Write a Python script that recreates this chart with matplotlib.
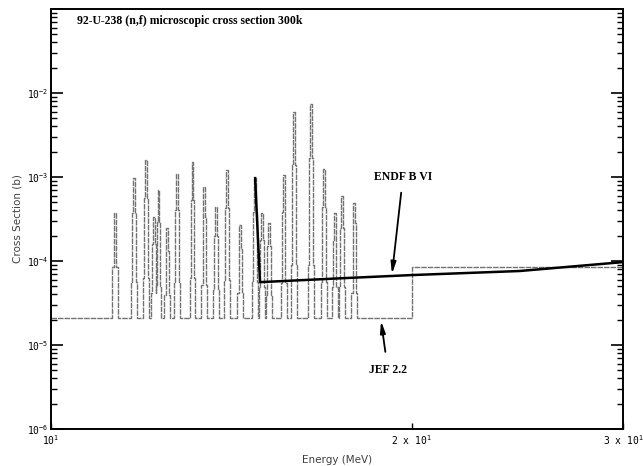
import matplotlib
matplotlib.use("Agg")
import matplotlib.pyplot as plt
from matplotlib.ticker import FixedLocator, FuncFormatter, LogLocator, NullLocator
import numpy as np

# JEF 2.2 resonances: energy (MeV), peak, middle step and shoulder cross sections (b)
res_energy = [11.31, 11.73, 12.00, 12.19, 12.30, 12.50, 12.74, 13.13, 13.42, 13.73, 14.02,
              14.38, 14.80, 15.00, 15.20, 15.64, 15.95, 16.48, 16.89, 17.25, 17.49, 17.90]
res_peak = [3.7e-4, 9.7e-4, 1.6e-3, 3.3e-4, 7.0e-4, 2.5e-4, 1.1e-3, 1.5e-3, 7.6e-4, 4.4e-4, 1.2e-3,
            2.7e-4, 9.7e-4, 3.7e-4, 2.8e-4, 1.05e-3, 5.9e-3, 7.4e-3, 1.25e-3, 3.7e-4, 5.9e-4, 4.9e-4]
res_mid = [8.5e-5, 3.7e-4, 5.6e-4, 1.6e-4, 2.9e-4, 1.3e-4, 4.0e-4, 5.3e-4, 3.3e-4, 2.0e-4, 4.3e-4,
           1.4e-4, 3.8e-4, 1.8e-4, 1.5e-4, 3.8e-4, 1.4e-3, 1.7e-3, 4.4e-4, 1.8e-4, 2.5e-4, 2.8e-4]
res_shoulder = [8.5e-5, 5.6e-5, 6.3e-5, 4.2e-5, 5.0e-5, 3.9e-5, 5.6e-5, 6.3e-5, 5.2e-5, 4.5e-5, 5.9e-5,
                4.2e-5, 5.6e-5, 4.9e-5, 3.9e-5, 5.5e-5, 9.0e-5, 9.0e-5, 5.6e-5, 4.9e-5, 4.9e-5, 4.2e-5]
jef_low = 2.1e-5      # below 20 MeV
jef_high = 8.5e-5     # above 20 MeV
jef_step = 20.0

# ENDF B VI
endf_energy = [14.80, 14.94, 17.76, 20.0, 24.6, 30.0]
endf_xs = [9.7e-4, 5.6e-5, 6.3e-5, 6.8e-5, 7.6e-5, 9.7e-5]

x_ticks = [10, 20, 30]
x_labels = ["10$^{1}$", "2 x 10$^{1}$", "3 x 10$^{1}$"]

# half widths of the nested steps, in ln(E)
W_SHOULDER, W_MID, W_PEAK = 0.0052, 0.0031, 0.0013

plt.rcParams['mathtext.fontset'] = 'custom'
plt.rcParams['mathtext.rm'] = 'DejaVu Sans Mono'
plt.rcParams['mathtext.it'] = 'DejaVu Sans Mono'

# build JEF step curve
rects = []
for e, p, m, s in zip(res_energy, res_peak, res_mid, res_shoulder):
    rects.append((e * np.exp(-W_SHOULDER), e * np.exp(W_SHOULDER), s))
    rects.append((e * np.exp(-W_MID), e * np.exp(W_MID), m))
    rects.append((e * np.exp(-W_PEAK), e * np.exp(W_PEAK), p))
edges = sorted(set([10.0, jef_step, 30.0] + [r[0] for r in rects] + [r[1] for r in rects]))
vals = []
for a, b in zip(edges[:-1], edges[1:]):
    mid = np.sqrt(a * b)
    v = jef_low if mid < jef_step else jef_high
    for lo, hi, rv in rects:
        if lo <= mid <= hi:
            v = max(v, rv)
    vals.append(v)
vals.append(vals[-1])

fig = plt.figure(figsize=(6.43, 4.66), dpi=100)
ax = fig.add_axes([0.0793, 0.0794, 0.8896, 0.9013])

ax.plot(edges, vals, drawstyle='steps-post', color='0.45', lw=1.0, ls=(0, (4, 0.7)))
ax.plot(endf_energy, endf_xs, color='black', lw=1.8)

ax.set_xscale('log')
ax.set_yscale('log')
ax.set_xlim(10, 30)
ax.set_ylim(1e-6, 1e-1)

ax.xaxis.set_major_locator(FixedLocator(x_ticks))
ax.xaxis.set_minor_locator(NullLocator())
ax.set_xticklabels(x_labels, family='DejaVu Sans Mono', fontsize=7)
ax.yaxis.set_major_locator(LogLocator(base=10, numticks=10))
ax.yaxis.set_minor_locator(LogLocator(base=10, subs=np.arange(2, 10), numticks=20))
ax.yaxis.set_major_formatter(FuncFormatter(
    lambda v, pos: "" if v > 0.05 else "10$^{%d}$" % round(np.log10(v))))
for lab in ax.get_yticklabels():
    lab.set_family('DejaVu Sans Mono')
ax.tick_params(axis='y', which='both', direction='in', left=True, right=True,
               labelsize=7, pad=2)
ax.tick_params(axis='y', which='major', length=8.5, width=1.2)
ax.tick_params(axis='y', which='minor', length=4.5, width=1.0)
ax.tick_params(axis='x', which='major', direction='in', length=4, width=1.0,
               labelsize=7, pad=3)
for sp in ax.spines.values():
    sp.set_linewidth(1.4)

ax.set_ylabel("Cross Section (b)", fontsize=7.5, color='0.25', labelpad=3)
ax.set_xlabel("Energy (MeV)", fontsize=7.5, color='0.25', labelpad=6)

ax.text(0.045, 0.972, "92-U-238 (n,f) microscopic cross section 300k", transform=ax.transAxes,
        family='Liberation Serif', weight='bold', fontsize=8.5, va='center', ha='left')

ax.annotate("ENDF B VI", xy=(19.25, 7.0e-5), xytext=(19.66, 1.0e-3),
            family='Liberation Serif', weight='bold', fontsize=8.5, ha='center', va='center',
            arrowprops=dict(arrowstyle='-|>,head_length=0.8,head_width=0.18', color='black',
                            lw=1.3, shrinkA=5, shrinkB=0))
ax.annotate("JEF 2.2", xy=(18.85, 1.93e-5), xytext=(19.10, 5.0e-6),
            family='Liberation Serif', weight='bold', fontsize=8.5, ha='center', va='center',
            arrowprops=dict(arrowstyle='-|>,head_length=0.8,head_width=0.18', color='black',
                            lw=1.3, shrinkA=7, shrinkB=0))

fig.savefig("out.png", dpi=100)
